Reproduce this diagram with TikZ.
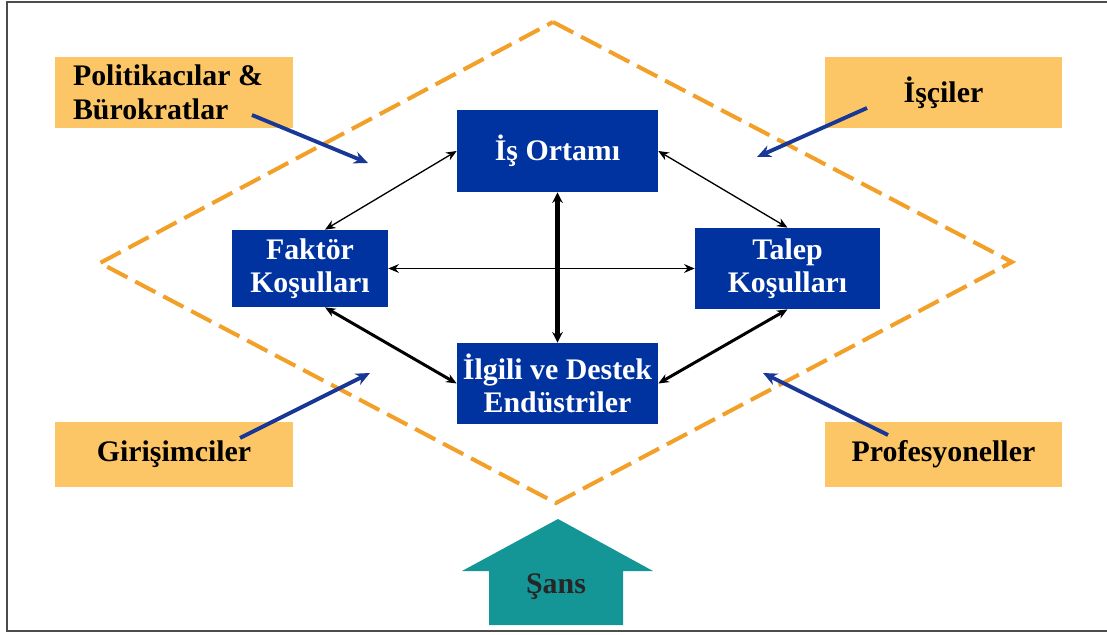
\documentclass[tikz,border=0pt]{standalone}
\usepackage{fontspec}
\setmainfont{Liberation Serif}
\usetikzlibrary{arrows.meta}

\definecolor{kutumavi}{RGB}{0,51,160}
\definecolor{etiketturuncu}{RGB}{252,198,102}
\definecolor{cizgituruncu}{RGB}{242,160,40}
\definecolor{okmavi}{RGB}{25,55,150}
\definecolor{sansyesil}{RGB}{20,150,150}

\begin{document}
\begin{tikzpicture}[x=0.02cm, y=-0.02cm,
    kosul/.style={fill=kutumavi, text=white, inner sep=0pt, align=center,
        font=\fontsize{17}{19}\selectfont\bfseries},
    aktor/.style={fill=etiketturuncu, text=black, inner sep=0pt, minimum width=4.76cm,
        font=\fontsize{17}{19}\selectfont\bfseries},
    ince/.style={black, line width=0.75pt, {Stealth[length=6pt,width=5pt]}-{Stealth[length=6pt,width=5pt]}},
    kalin/.style={black, line width=1.7pt, {Stealth[length=6pt,width=5pt]}-{Stealth[length=6pt,width=5pt]}},
    etki/.style={okmavi, line width=2.2pt, -{Stealth[length=8pt,width=7pt]}}]

\useasboundingbox (0,0) rectangle (1107,635);

% Cerceve
\draw[gray!60!black, line width=1.2pt] (1107,2) -- (7,2) -- (7,631) -- (1107,631);

% Elmas
\draw[cizgituruncu, line width=2.3pt, dash pattern=on 13pt off 5pt]
    (553,22) -- (1012,262) -- (556,503) -- (100,263) -- cycle;

% Dort kosul
\node[kosul, minimum width=4.02cm, minimum height=1.64cm] (isort) at (557.5,151) {İş Ortamı};
\node[kosul, minimum width=3.12cm, minimum height=1.54cm] (faktor) at (310,268.5) {Faktör\\Koşulları};
\node[kosul, minimum width=3.7cm, minimum height=1.62cm] (talep) at (787.5,268.5) {Talep\\Koşulları};
\node[kosul, minimum width=4.02cm, minimum height=1.62cm] (ilgili) at (557.5,383.5) {İlgili ve Destek\\Endüstriler};

% Aktorler
\node[aktor, minimum height=1.42cm, text width=4.04cm, inner xsep=0.36cm, align=flush left] (politik) at (174,92.5) {Politikacılar \&\\Bürokratlar};
\node[aktor, minimum height=1.42cm] (isciler) at (943.5,92.5) {İşçiler};
\node[aktor, minimum height=1.3cm] (girisim) at (174,454.5) {Girişimciler};
\node[aktor, minimum height=1.3cm] (profes) at (943.5,454.5) {Profesyoneller};

% Kosullar arasi baglar
\draw[ince] (isort.west) -- ([xshift=0.3cm]faktor.north);
\draw[ince] (isort.east) -- (talep.north);
\draw[ince] (faktor.east) -- (talep.west);
\draw[black, line width=2.3pt, {Stealth[length=6pt,width=6pt]}-{Stealth[length=6pt,width=6pt]}] (isort.south) -- (ilgili.north);
\draw[kalin] ([xshift=0.3cm]faktor.south) -- (ilgili.west);
\draw[kalin] (talep.south) -- (ilgili.east);

% Aktorlerin etkisi
\coordinate (p1) at (252,115);
\coordinate (p2) at (368,163);
\coordinate (i1) at (867,108);
\coordinate (i2) at (757,157);
\coordinate (g1) at (240,438);
\coordinate (g2) at (370,373);
\coordinate (r1) at (888,435);
\coordinate (r2) at (763,373);
\draw[etki] (p1) -- (p2);
\draw[etki] (i1) -- (i2);
\draw[etki] (g1) -- (g2);
\draw[etki] (r1) -- (r2);

% Sans
\fill[sansyesil] (558,519) -- (653,571) -- (623,571) -- (623,625) -- (489,625) -- (489,571) -- (462,571) -- cycle;
\node[font=\fontsize{17}{19}\selectfont\bfseries, text=black!85] (sans) at (556,587) {Şans};

\end{tikzpicture}
\end{document}
